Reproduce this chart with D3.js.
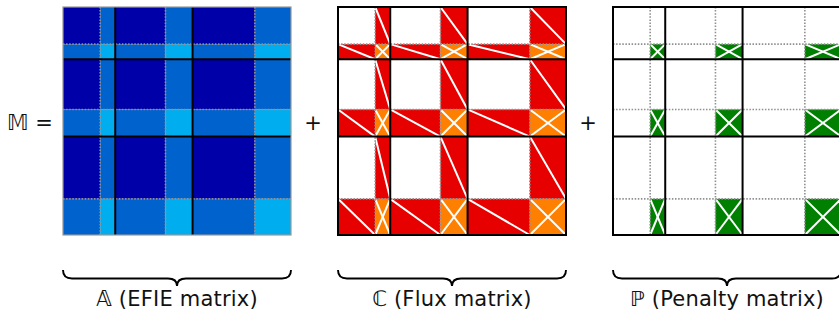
<!DOCTYPE html>
<html>
<head>
<meta charset="utf-8">
<script src="https://cdn.jsdelivr.net/npm/d3@7"></script>
<style>
  body { margin: 0; background: #fff; }
  svg { display: block; }
</style>
</head>
<body>
<svg width="839" height="312"></svg>
<script>
// block structure: each block has interior dofs then boundary dofs
var interior = [37, 50, 62];
var boundary = [15, 27, 36];
var matrixNames = ["A", "C", "P"];
var matrixLabels = ["\u{1D538} (EFIE matrix)", "\u2102 (Flux matrix)", "\u2119 (Penalty matrix)"];

var svg = d3.select("svg"),
    width = +svg.attr("width"),
    height = +svg.attr("height");

var size = 228;        // pixel size of one matrix
var top0 = 7;
var lefts = [63, 338, 613];

// build segments (interior / boundary part of each block)
var segs = [];
var pos = 0;
for (var i = 0; i < interior.length; i++) {
    segs.push({block: i, part: "int", start: pos, len: interior[i]});
    pos += interior[i];
    segs.push({block: i, part: "bnd", start: pos, len: boundary[i]});
    pos += boundary[i];
}
var total = pos;

// block boundaries and int/bnd splits
var blockEdges = [];
var splitEdges = [];
pos = 0;
for (var i = 0; i < interior.length; i++) {
    splitEdges.push(pos + interior[i]);
    pos += interior[i] + boundary[i];
    if (i < interior.length - 1) blockEdges.push(pos);
}

var cells = [];
segs.forEach(function (r) {
    segs.forEach(function (c) {
        cells.push({row: r, col: c});
    });
});

function cellType(d) {
    var n = (d.row.part == "bnd") + (d.col.part == "bnd");
    return n; // 0 int-int, 1 mixed, 2 bnd-bnd
}

var fills = {
    A: ["#0000a8", "#0062cc", "#00aeef"],
    C: [null, "#e60000", "#ff8000"],
    P: [null, null, "#008000"]
};

matrixNames.forEach(function (name, m) {
    var x = d3.scaleLinear().domain([0, total]).range([lefts[m], lefts[m] + size]);
    var y = d3.scaleLinear().domain([0, total]).range([top0, top0 + size]);
    var g = svg.append("g").attr("class", "matrix-" + name);

    var filled = cells.filter(function (d) { return fills[name][cellType(d)]; });

    g.selectAll("rect.cell")
        .data(filled)
        .enter()
        .append("rect")
        .attr("class", "cell")
        .attr("x", function (d) { return x(d.col.start); })
        .attr("y", function (d) { return y(d.row.start); })
        .attr("width", function (d) { return x(d.col.start + d.col.len) - x(d.col.start); })
        .attr("height", function (d) { return y(d.row.start + d.row.len) - y(d.row.start); })
        .attr("fill", function (d) { return fills[name][cellType(d)]; });

    // white diagonals for C and P
    if (name != "A") {
        var diag = [];
        filled.forEach(function (d) {
            var x0 = x(d.col.start), x1 = x(d.col.start + d.col.len);
            var y0 = y(d.row.start), y1 = y(d.row.start + d.row.len);
            diag.push([x0, y0, x1, y1]);
            if (cellType(d) == 2) diag.push([x0, y1, x1, y0]);
        });
        g.selectAll("line.diag")
            .data(diag)
            .enter()
            .append("line")
            .attr("class", "diag")
            .attr("x1", function (d) { return d[0]; })
            .attr("y1", function (d) { return d[1]; })
            .attr("x2", function (d) { return d[2]; })
            .attr("y2", function (d) { return d[3]; })
            .attr("stroke", "#fff")
            .attr("stroke-width", 2);
    }

    // dotted lines at interior / boundary splits
    splitEdges.forEach(function (s) {
        g.append("line")
            .attr("x1", x(s)).attr("x2", x(s))
            .attr("y1", y(0)).attr("y2", y(total))
            .attr("stroke", "#909090").attr("stroke-width", 1.6)
            .attr("stroke-dasharray", "1.5,1.6");
        g.append("line")
            .attr("x1", x(0)).attr("x2", x(total))
            .attr("y1", y(s)).attr("y2", y(s))
            .attr("stroke", "#909090").attr("stroke-width", 1.6)
            .attr("stroke-dasharray", "1.5,1.6");
    });

    // block lines
    blockEdges.forEach(function (s) {
        g.append("line")
            .attr("x1", x(s)).attr("x2", x(s))
            .attr("y1", y(0)).attr("y2", y(total))
            .attr("stroke", "#000").attr("stroke-width", 2);
        g.append("line")
            .attr("x1", x(0)).attr("x2", x(total))
            .attr("y1", y(s)).attr("y2", y(s))
            .attr("stroke", "#000").attr("stroke-width", 2);
    });

    // outer frame
    g.append("rect")
        .attr("x", x(0)).attr("y", y(0))
        .attr("width", x(total) - x(0)).attr("height", y(total) - y(0))
        .attr("fill", "none")
        .attr("stroke", name == "A" ? "#999" : "#000")
        .attr("stroke-width", name == "A" ? 1.2 : 2);

    // under-brace
    var bx0 = x(0), bx1 = x(total), cx = (bx0 + bx1) / 2;
    var yt = 270, ym = 278.5, yb = 286, r = 9;
    var p = d3.path();
    p.moveTo(bx0, yt);
    p.quadraticCurveTo(bx0, ym, bx0 + r, ym);
    p.lineTo(cx - r, ym);
    p.quadraticCurveTo(cx, ym, cx, yb);
    p.quadraticCurveTo(cx, ym, cx + r, ym);
    p.lineTo(bx1 - r, ym);
    p.quadraticCurveTo(bx1, ym, bx1, yt);
    g.append("path")
        .attr("d", p.toString())
        .attr("fill", "none")
        .attr("stroke", "#000")
        .attr("stroke-width", 1.9);

    g.append("text")
        .attr("x", cx)
        .attr("y", 306)
        .attr("text-anchor", "middle")
        .attr("font-family", "DejaVu Sans")
        .attr("font-size", 21)
        .attr("letter-spacing", 0.2)
        .attr("fill", "#111")
        .text(matrixLabels[m]);
});

// operators
svg.append("text")
    .attr("x", 30).attr("y", 130)
    .attr("text-anchor", "middle")
    .attr("font-family", "DejaVu Sans")
    .attr("font-size", 21)
    .attr("fill", "#111")
    .text("\u{1D544} =");

[313, 588].forEach(function (px) {
    svg.append("text")
        .attr("x", px).attr("y", 130)
        .attr("text-anchor", "middle")
        .attr("font-family", "DejaVu Sans")
        .attr("font-size", 21)
        .attr("fill", "#111")
        .text("+");
});
</script>
</body>
</html>
